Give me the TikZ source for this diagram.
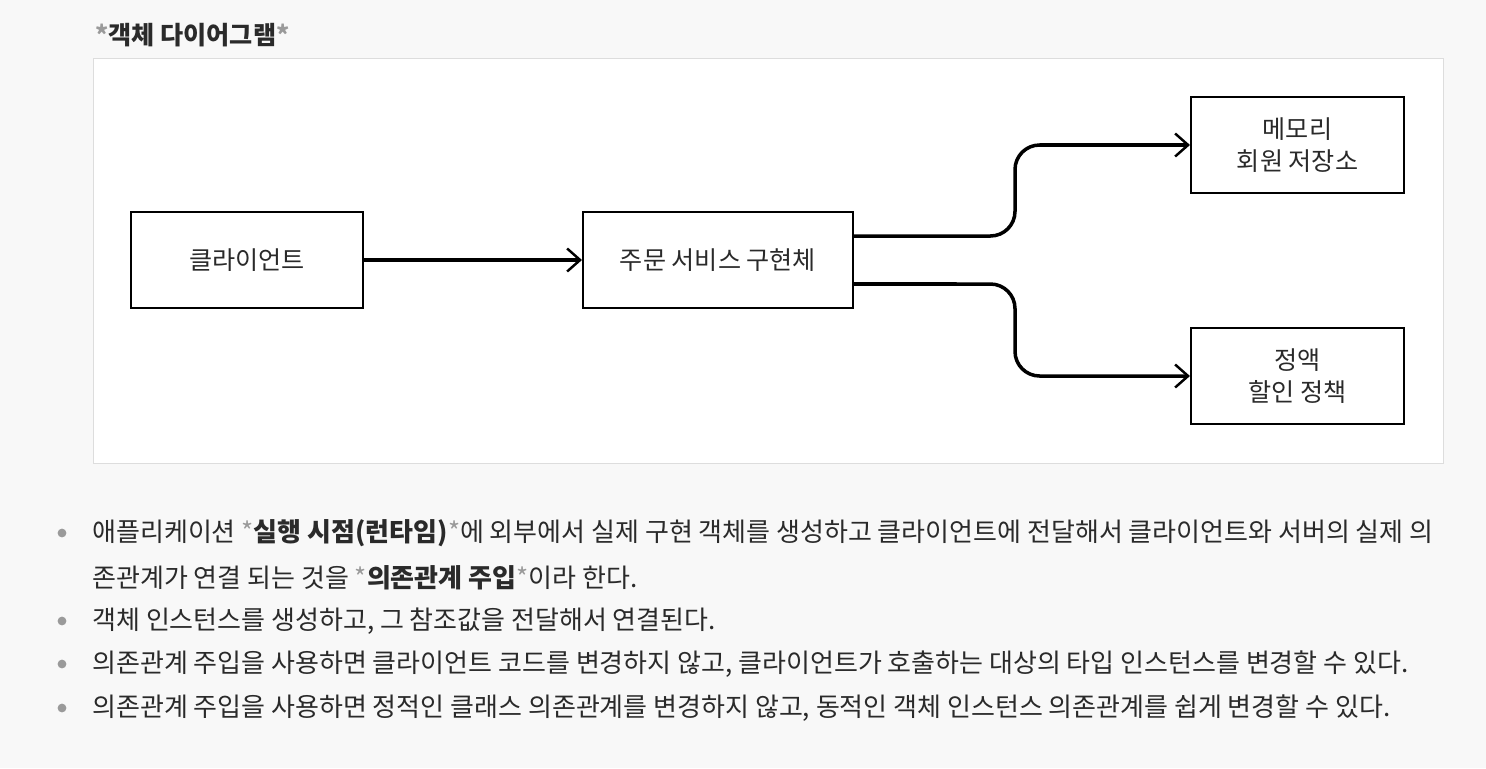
\documentclass[tikz,border=0pt]{standalone}
\usepackage{fontspec}
\setmainfont{Noto Sans CJK KR}
\usetikzlibrary{arrows.meta}
\definecolor{pagebg}{HTML}{F8F8F8}
\definecolor{frameline}{HTML}{DDDDDD}
\definecolor{txt}{HTML}{2A2A2A}
\definecolor{star}{HTML}{9A9A9A}
\newcommand{\st}{\textcolor{star}{*}}
\begin{document}
\begin{tikzpicture}[x=0.02cm,y=-0.02cm, >={Straight Barb[length=2.6mm,width=4.6mm,line width=1.4pt]},
      box/.style={draw=black,line width=1.2pt,fill=white,align=center,font=\fontsize{14.3pt}{18pt}\selectfont,text=txt},
      link/.style={->,line width=2pt,rounded corners=14pt},
      line/.style={anchor=west,font=\fontsize{14.8pt}{17pt}\selectfont,text=txt,inner sep=0},
      dotmark/.style={circle,fill=star,inner sep=0,minimum size=5pt}]
      % page and frame
      \fill[pagebg] (0,0) rectangle (1486,768);
      \draw[frameline,fill=white] (93,58) rectangle (1443,463);
      \node[line,font=\fontsize{14.3pt}{16pt}\selectfont\bfseries] (title) at (95,35) {\st 객체 다이어그램\st};

      % boxes
      \node[box,minimum width=4.64cm,minimum height=1.92cm] (client) at (247,260) {클라이언트};
      \node[box,minimum width=5.4cm,minimum height=1.92cm] (order) at (718,260) {주문 서비스 구현체};
      \node[box,minimum width=4.26cm,minimum height=1.92cm] (memory) at (1297.5,145) {메모리\\회원 저장소};
      \node[box,minimum width=4.26cm,minimum height=1.92cm] (discount) at (1297.5,376) {정액\\할인 정책};

      % links
      \draw[link] (client.east) -- (order.west);
      \draw[link] ([yshift=0.48cm]order.east) -- (1015,236) -- (1015,145) -- (memory.west);
      \draw[link] ([yshift=-0.48cm]order.east) -- (1015,284) -- (1015,376) -- (discount.west);

      % notes
      \foreach \y in {533,621,664,708}
        \node[dotmark] at (62,\y) {};
      \node[line] (n1) at (92,533) {애플리케이션 \st\textbf{실행 시점(런타임)}\st 에 외부에서 실제 구현 객체를 생성하고 클라이언트에 전달해서 클라이언트와 서버의 실제 의};
      \node[line] (n2) at (92,578) {존관계가 연결 되는 것을 \st\textbf{의존관계 주입}\st 이라 한다.};
      \node[line] (n3) at (92,621) {객체 인스턴스를 생성하고, 그 참조값을 전달해서 연결된다.};
      \node[line] (n4) at (92,664) {의존관계 주입을 사용하면 클라이언트 코드를 변경하지 않고, 클라이언트가 호출하는 대상의 타입 인스턴스를 변경할 수 있다.};
      \node[line] (n5) at (92,708) {의존관계 주입을 사용하면 정적인 클래스 의존관계를 변경하지 않고, 동적인 객체 인스턴스 의존관계를 쉽게 변경할 수 있다.};
\end{tikzpicture}
\end{document}
